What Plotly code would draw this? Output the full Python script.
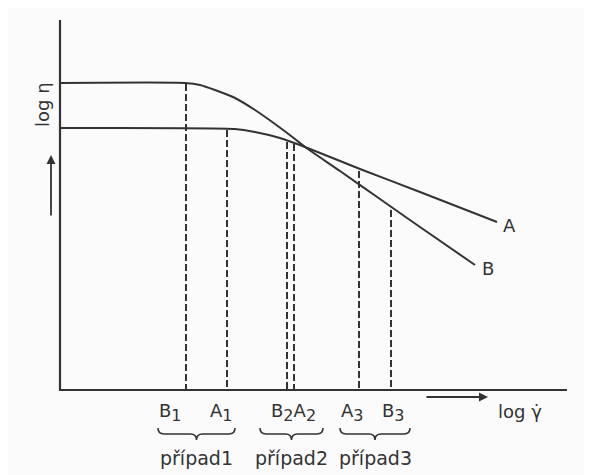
import plotly.graph_objects as go

# ---- data (abstract log units) ----
curve_b_x = [0.0, 2.5, 2.8, 3.1, 3.5, 3.9, 4.3, 4.7, 4.9, 5.6, 6.4, 7.2, 8.3]
curve_b_y = [6.14, 6.14, 6.10, 6.00, 5.84, 5.60, 5.32, 5.02, 4.86, 4.38, 3.82, 3.26, 2.50]
curve_a_x = [0.0, 3.5, 3.9, 4.4, 4.9, 6.0, 7.2, 8.74]
curve_a_y = [5.24, 5.22, 5.16, 5.04, 4.86, 4.42, 3.96, 3.36]

drop_names = ["B1", "A1", "B2", "A2", "A3", "B3"]
drop_x = [2.52, 3.34, 4.54, 4.68, 5.98, 6.62]
drop_top = [6.12, 5.20, 4.96, 4.92, 4.38, 3.60]

point_letters = [["B"], ["A"], ["B", "A"], ["A"], ["B"]]
point_indices = [["1"], ["1"], ["2", "2"], ["3"], ["3"]]
point_label_x = [2.2, 3.22, 4.66, 5.84, 6.66]

case_labels = ["případ1", "případ2", "případ3"]
case_start = [1.96, 4.0, 5.6]
case_end = [3.5, 5.26, 7.0]

ink = "#333333"
font = "DejaVu Sans"

fig = go.Figure()

# axes
fig.add_trace(go.Scatter(x=[0, 0, 10.14], y=[7.4, 0, 0], mode="lines",
                         line=dict(color=ink, width=2.2), hoverinfo="skip"))
# curves
fig.add_trace(go.Scatter(x=curve_b_x, y=curve_b_y, mode="lines",
                         line=dict(color=ink, width=2, shape="spline", smoothing=0.6),
                         hoverinfo="skip"))
fig.add_trace(go.Scatter(x=curve_a_x, y=curve_a_y, mode="lines",
                         line=dict(color=ink, width=2, shape="spline", smoothing=0.6),
                         hoverinfo="skip"))
# dashed drop lines
for xv, yt in zip(drop_x, drop_top):
    fig.add_trace(go.Scatter(x=[xv, xv], y=[yt, 0], mode="lines",
                             line=dict(color=ink, width=2, dash="7px,3px"),
                             hoverinfo="skip"))

# curve end labels
fig.add_annotation(x=curve_a_x[-1] + 0.24, y=curve_a_y[-1] - 0.06, text="A", showarrow=False,
                   font=dict(family=font, size=18, color=ink))
fig.add_annotation(x=curve_b_x[-1] + 0.26, y=curve_b_y[-1] - 0.06, text="B", showarrow=False,
                   font=dict(family=font, size=18, color=ink))

# point labels under axis
for letters, idxs, xv in zip(point_letters, point_indices, point_label_x):
    t = "".join(f"{L}<sub><span style='font-size:16px'>{i}</span></sub>"
                for L, i in zip(letters, idxs))
    fig.add_annotation(x=xv, y=-0.16, text=t, showarrow=False, yanchor="top",
                       font=dict(family=font, size=18, color=ink))

# braces and case labels
y_end, y_bar, y_tip = -0.76, -0.88, -1.0
for lab, x0, x1 in zip(case_labels, case_start, case_end):
    xc = (x0 + x1) / 2
    d = 0.12
    path = (f"M {x0},{y_end} Q {x0},{y_bar} {x0+d},{y_bar} L {xc-d},{y_bar} "
            f"Q {xc},{y_bar} {xc},{y_tip} Q {xc},{y_bar} {xc+d},{y_bar} "
            f"L {x1-d},{y_bar} Q {x1},{y_bar} {x1},{y_end}")
    fig.add_shape(type="path", path=path, xref="x", yref="y",
                  line=dict(color=ink, width=1.6))
    fig.add_annotation(x=xc, y=-1.36, text=lab, showarrow=False,
                       font=dict(family=font, size=19, color=ink))

# axis titles and arrows
fig.add_annotation(x=9.2, y=-0.42, text="log γ̇", showarrow=False,
                   font=dict(family=font, size=18, color=ink))
fig.add_annotation(x=8.56, y=-0.14, ax=7.3, ay=-0.14, xref="x", yref="y",
                   axref="x", ayref="y", text="", showarrow=True,
                   arrowhead=2, arrowsize=1, arrowwidth=1.8, arrowcolor=ink)
fig.add_annotation(x=-0.36, y=5.7, text="log η", textangle=-90, showarrow=False,
                   font=dict(family=font, size=18, color=ink))
fig.add_annotation(x=-0.18, y=4.7, ax=-0.18, ay=3.46, xref="x", yref="y",
                   axref="x", ayref="y", text="", showarrow=True,
                   arrowhead=2, arrowsize=1, arrowwidth=1.8, arrowcolor=ink)

fig.update_layout(
    width=592, height=475,
    margin=dict(l=0, r=0, t=0, b=0),
    paper_bgcolor="#fbfbfb", plot_bgcolor="#fbfbfb",
    showlegend=False,
    xaxis=dict(range=[-1.04, 10.8], visible=False, fixedrange=True),
    yaxis=dict(range=[-1.86, 7.64], visible=False, fixedrange=True),
)

fig.write_html("out.html")
